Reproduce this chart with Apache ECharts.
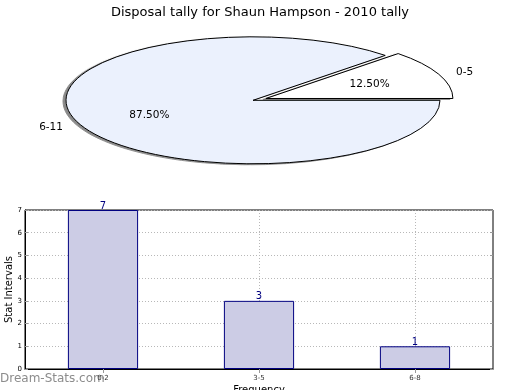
<!DOCTYPE html>
<html><head><meta charset="utf-8">
<script src="https://cdn.jsdelivr.net/npm/echarts@6/dist/echarts.min.js"></script>
<style>
html,body{margin:0;padding:0;background:#fff;}
#main{position:absolute;left:0;top:0;width:520px;height:390px;z-index:2;}
#pie{position:absolute;overflow:visible;z-index:1;}
</style></head>
<body>
<div id="pie"></div>
<div id="main"></div>
<script>
// ---- data ----
const titleText = 'Disposal tally for Shaun Hampson - 2010 tally';
const pieLabels = ['0-5', '6-11'];
const pieValues = [1, 7];
const pieExplode = [true, false];
const pieColors = ['#ffffff', '#ebf1fd'];
const barCategories = ['0-2', '3-5', '6-8'];
const barValues = [7, 3, 1];
const yTicks = [0, 1, 2, 3, 4, 5, 6, 7];

// ---- pie geometry (layout) ----
const PCX = 253, PCY = 100.5, RX = 187, RY = 63.5, EXPL = 14;
const SY = RY / RX;
const BOX = 420;

const FONT = 'DejaVu Sans';

// pie drawn as a real pie series, then squashed into an ellipse
const pieDiv = document.getElementById('pie');
pieDiv.style.left = (PCX - BOX / 2) + 'px';
pieDiv.style.top = (PCY - BOX / 2 * SY) + 'px';
pieDiv.style.width = BOX + 'px';
pieDiv.style.height = BOX + 'px';
const pie = echarts.init(pieDiv, null, {renderer: 'svg', width: BOX, height: BOX});
pie.setOption({
  animation: false,
  series: [{
    type: 'pie',
    silent: true,
    radius: RX,
    center: [BOX / 2, BOX / 2],
    startAngle: 45,
    clockwise: true,
    selectedMode: 'multiple',
    selectedOffset: EXPL,
    label: {show: false},
    labelLine: {show: false},
    emphasis: {disabled: true},
    itemStyle: {
      borderColor: '#000', borderWidth: 1,
      shadowColor: 'rgba(40,40,40,0.55)', shadowBlur: 0,
      shadowOffsetX: -3, shadowOffsetY: 0.9 / SY
    },
    data: pieLabels.map((n, i) => ({
      name: n, value: pieValues[i], selected: pieExplode[i],
      itemStyle: {color: pieColors[i]}
    }))
  }]
});
(function squash() {
  const svg = pieDiv.querySelector('svg');
  if (!svg) return;
  const h = BOX * SY;
  svg.setAttribute('viewBox', '0 0 ' + BOX + ' ' + BOX);
  svg.setAttribute('preserveAspectRatio', 'none');
  svg.setAttribute('width', BOX);
  svg.setAttribute('height', h);
  svg.style.width = BOX + 'px';
  svg.style.height = h + 'px';
  svg.style.overflow = 'visible';
  svg.querySelectorAll('path').forEach(p => p.setAttribute('vector-effect', 'non-scaling-stroke'));
  const inner = svg.parentNode;
  if (inner && inner !== pieDiv) { inner.style.height = h + 'px'; inner.style.overflow = 'visible'; }
  pieDiv.style.height = h + 'px';
})();

// pie labels computed from the slice angles (matplotlib-style placement)
const total = pieValues.reduce((a, b) => a + b, 0);
const pieTexts = [];
let acc = 0;
pieValues.forEach((v, i) => {
  const a0 = 45 - acc / total * 360;
  const a1 = a0 - v / total * 360;
  acc += v;
  const mid = (a0 + a1) / 2 * Math.PI / 180;
  const c = Math.cos(mid), s = Math.sin(mid);
  const off = pieExplode[i] ? EXPL : 0;
  const ox = PCX + off * c, oy = PCY - off * s * SY;
  const pct = (v / total * 100).toFixed(2) + '%';
  pieTexts.push({
    type: 'text', x: ox + 0.6 * RX * c, y: oy - 0.6 * RY * s,
    style: {text: pct, font: '10.5px "' + FONT + '"', fill: '#000', align: 'center', verticalAlign: 'middle'}
  });
  pieTexts.push({
    type: 'text', x: ox + 1.1 * RX * c, y: oy - 1.1 * RY * s,
    style: {text: pieLabels[i], font: '10.5px "' + FONT + '"', fill: '#000', align: c >= 0 ? 'left' : 'right', verticalAlign: 'middle'}
  });
});

const gridLine = {show: true, lineStyle: {color: '#b8b8b8', type: [1, 2], width: 1}};
const main = echarts.init(document.getElementById('main'));
main.setOption({
  animation: false,
  backgroundColor: 'transparent',
  textStyle: {fontFamily: FONT},
  title: {
    text: titleText, left: 'center', top: 1,
    textStyle: {fontFamily: FONT, fontSize: 13, fontWeight: 'normal', color: '#000'}
  },
  grid: {left: 25, right: 27, top: 210, bottom: 21, outerBoundsMode: 'none', containLabel: false,
    show: true, borderColor: '#000', borderWidth: 1, backgroundColor: 'transparent'},
  xAxis: [{
    type: 'category', data: barCategories,
    name: 'Frequency', nameLocation: 'middle', nameGap: 16, nameMoveOverlap: false,
    nameTextStyle: {fontFamily: FONT, fontSize: 10, color: '#000'},
    axisLine: {lineStyle: {color: '#000', width: 1}},
    axisTick: {show: true, alignWithLabel: true, inside: true, length: 4, lineStyle: {color: '#999'}},
    axisLabel: {fontSize: 7, color: '#333', margin: 6, fontFamily: FONT},
    splitLine: Object.assign({alignWithLabel: true}, gridLine)
  }, {
    type: 'category', data: barCategories, position: 'top',
    axisLine: {show: false},
    axisTick: {show: true, alignWithLabel: true, inside: true, length: 4, lineStyle: {color: '#999'}},
    axisLabel: {show: false}, splitLine: {show: false}
  }],
  yAxis: [{
    type: 'value', min: 0, max: 7, interval: 1,
    name: 'Stat Intervals', nameLocation: 'middle', nameGap: 11, nameRotate: 90, nameMoveOverlap: false,
    nameTextStyle: {fontFamily: FONT, fontSize: 10, color: '#000'},
    axisLine: {show: true, lineStyle: {color: '#000', width: 1}},
    axisTick: {show: true, inside: true, length: 3, lineStyle: {color: '#999'}},
    axisLabel: {fontSize: 7, color: '#000', margin: 3, fontFamily: FONT,
      formatter: v => yTicks.indexOf(v) >= 0 ? String(v) : ''},
    splitLine: gridLine
  }, {
    type: 'value', min: 0, max: 7, interval: 1, position: 'right',
    axisLine: {show: false},
    axisTick: {show: true, inside: true, length: 3, lineStyle: {color: '#999'}},
    axisLabel: {show: false}, splitLine: {show: false}
  }],
  series: [{
    type: 'bar', data: barValues, barWidth: '45%',
    itemStyle: {color: '#ccccE5', borderColor: '#000080', borderWidth: 1},
    label: {show: true, position: 'top', distance: -1, color: '#000080', fontSize: 10, fontFamily: FONT},
    silent: true
  }],
  graphic: pieTexts.concat([{
    type: 'text', left: 0, top: 373,
    style: {text: 'Dream-Stats.com', font: '12px "' + FONT + '"', fill: '#8c8c8c'}
  }])
});
</script>
</body></html>
